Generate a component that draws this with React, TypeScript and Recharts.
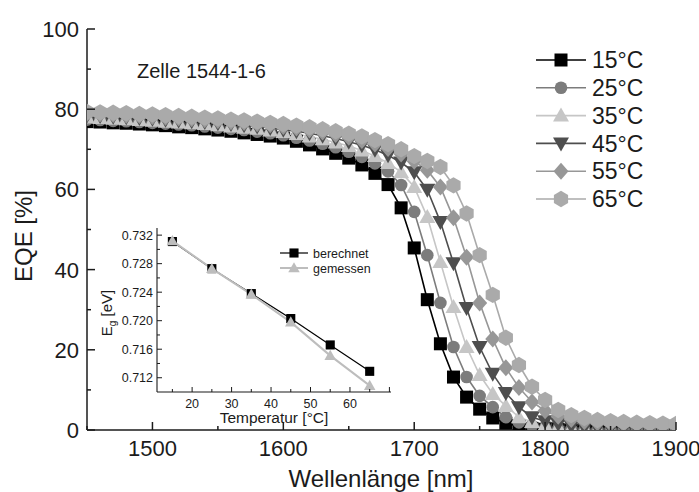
import React from 'react';
import { LineChart, Line, XAxis, YAxis, Legend } from 'recharts';

// main EQE spectra, one point every 10 nm
const wavelength = [1450, 1460, 1470, 1480, 1490, 1500, 1510, 1520, 1530, 1540, 1550, 1560, 1570, 1580, 1590, 1600, 1610, 1620, 1630, 1640, 1650, 1660, 1670, 1680, 1690, 1700, 1710, 1720, 1730, 1740, 1750, 1760, 1770, 1780, 1790, 1800, 1810, 1820, 1830, 1840, 1850, 1860, 1870, 1880, 1890, 1900];

const eqe15 = [76.9, 76.8, 76.6, 76.5, 76.3, 76.1, 75.9, 75.6, 75.4, 75.1, 74.8, 74.5, 74.1, 73.7, 73.3, 72.8, 72.0, 71.1, 70.1, 69.0, 67.8, 66.1, 64.0, 61.2, 55.4, 45.4, 32.5, 21.5, 13.2, 8.2, 5.2, 3.0, 1.7, 0.9, 0.4, 0.2, 0.1, 0, 0, 0, 0, 0, 0, 0, 0, 0];
const eqe25 = [77.4, 77.3, 77.1, 77.0, 76.8, 76.6, 76.4, 76.2, 76.0, 75.7, 75.4, 75.1, 74.8, 74.4, 74.0, 73.5, 72.9, 72.2, 71.4, 70.5, 69.4, 68.1, 66.5, 64.5, 61.1, 54.4, 43.6, 31.7, 20.7, 13.2, 8.5, 5.7, 3.2, 1.9, 1.1, 0.6, 0.3, 0.2, 0.1, 0, 0, 0, 0, 0, 0, 0];
const eqe35 = [77.9, 77.8, 77.6, 77.5, 77.3, 77.1, 76.9, 76.7, 76.5, 76.3, 76.0, 75.7, 75.4, 75.1, 74.7, 74.3, 73.8, 73.2, 72.5, 71.7, 70.8, 69.7, 68.3, 66.6, 64.3, 60.6, 53.1, 41.9, 30.7, 20.7, 13.7, 9.0, 6.0, 3.2, 2.0, 1.2, 0.7, 0.4, 0.3, 0.2, 0.1, 0, 0, 0, 0, 0];
const eqe45 = [78.4, 78.3, 78.1, 78.0, 77.8, 77.6, 77.4, 77.2, 77.0, 76.8, 76.5, 76.3, 76.0, 75.7, 75.3, 74.9, 74.5, 74.0, 73.4, 72.7, 71.9, 71.0, 69.9, 68.5, 66.7, 64.3, 59.9, 51.9, 41.6, 30.4, 20.7, 14.0, 9.2, 5.7, 3.2, 2.2, 1.5, 1.0, 0.7, 0.5, 0.4, 0.3, 0.2, 0.2, 0.1, 0.1];
const eqe55 = [78.9, 78.8, 78.7, 78.5, 78.4, 78.2, 78.0, 77.8, 77.6, 77.4, 77.2, 76.9, 76.7, 76.4, 76.1, 75.7, 75.3, 74.8, 74.3, 73.7, 73.0, 72.2, 71.3, 70.2, 68.8, 67.0, 64.8, 60.6, 52.9, 43.1, 31.7, 22.7, 15.5, 10.6, 7.0, 4.8, 3.4, 2.6, 2.1, 1.8, 1.6, 1.5, 1.4, 1.3, 1.2, 1.2];
const eqe65 = [79.3, 79.2, 79.1, 79.0, 78.8, 78.7, 78.5, 78.3, 78.1, 77.9, 77.7, 77.4, 77.2, 76.9, 76.6, 76.3, 75.9, 75.5, 75.0, 74.5, 73.9, 73.2, 72.3, 71.3, 70.0, 68.3, 67.1, 65.6, 61.0, 54.0, 43.6, 33.7, 23.0, 16.2, 10.8, 7.5, 5.0, 3.7, 3.0, 2.5, 2.2, 2.0, 1.8, 1.7, 1.6, 1.5];

const seriesNames = ['15°C', '25°C', '35°C', '45°C', '55°C', '65°C'];
const seriesKeys = ['t15', 't25', 't35', 't45', 't55', 't65'];
const seriesColors = ['#000000', '#7c7c7c', '#c6c6c6', '#4e4e4e', '#979797', '#aaaaaa'];
type Shape = 'square' | 'circle' | 'up' | 'down' | 'diamond' | 'hexagon';
const seriesShapes: Shape[] = ['square', 'circle', 'up', 'down', 'diamond', 'hexagon'];

const xTicks = [1450, 1500, 1550, 1600, 1650, 1700, 1750, 1800, 1850, 1900];
const yTicks = [0, 10, 20, 30, 40, 50, 60, 70, 80, 90, 100];

// inset: band gap vs temperature
const temperature = [15, 25, 35, 45, 55, 65];
const egCalculated = [0.7311, 0.7273, 0.7238, 0.7203, 0.7166, 0.7129];
const egMeasured = [0.7312, 0.7273, 0.7237, 0.7198, 0.7151, 0.7109];
const insetXTicks = [15, 20, 25, 30, 35, 40, 45, 50, 55, 60, 65, 70];
const insetYTicks = [0.712, 0.714, 0.716, 0.718, 0.72, 0.722, 0.724, 0.726, 0.728, 0.73, 0.732];

const data = wavelength.map((w, i) => ({
  w,
  t15: eqe15[i],
  t25: eqe25[i],
  t35: eqe35[i],
  t45: eqe45[i],
  t55: eqe55[i],
  t65: eqe65[i],
}));

const insetData = temperature.map((t, i) => ({ t, calc: egCalculated[i], meas: egMeasured[i] }));

const FONT = '"Liberation Sans", Arial, Helvetica, sans-serif';
const INK = '#1b1b1b';

function Marker({ shape, cx, cy, k = 1, fill }: { shape: Shape; cx: number; cy: number; k?: number; fill: string }) {
  if (cx == null || cy == null) return null;
  switch (shape) {
    case 'square': {
      const h = 6.5 * k;
      return <rect x={cx - h} y={cy - h} width={2 * h} height={2 * h} fill={fill} />;
    }
    case 'circle':
      return <circle cx={cx} cy={cy} r={6.3 * k} fill={fill} />;
    case 'up':
      return <polygon points={`${cx},${cy - 8 * k} ${cx + 8 * k},${cy + 6 * k} ${cx - 8 * k},${cy + 6 * k}`} fill={fill} />;
    case 'down':
      return <polygon points={`${cx - 8 * k},${cy - 6 * k} ${cx + 8 * k},${cy - 6 * k} ${cx},${cy + 8 * k}`} fill={fill} />;
    case 'diamond':
      return <polygon points={`${cx},${cy - 8.5 * k} ${cx + 7.5 * k},${cy} ${cx},${cy + 8.5 * k} ${cx - 7.5 * k},${cy}`} fill={fill} />;
    default: {
      const r = 8.2 * k;
      const a = r * 0.866;
      return <polygon points={`${cx},${cy - r} ${cx + a},${cy - r / 2} ${cx + a},${cy + r / 2} ${cx},${cy + r} ${cx - a},${cy + r / 2} ${cx - a},${cy - r / 2}`} fill={fill} />;
    }
  }
}

// ticks point inward, labels drawn by hand
const MainBottomTick = (p: any) => {
  const v = p.payload.value;
  const major = v % 100 === 0;
  return (
    <g>
      <line x1={p.x} x2={p.x} y1={p.y} y2={p.y - (major ? 8 : 4)} stroke={INK} strokeWidth={1.5} />
      {major && (
        <text x={p.x} y={p.y + 26} textAnchor="middle" fontSize={22} fontFamily={FONT} fill={INK}>{v}</text>
      )}
    </g>
  );
};
const MainTopTick = (p: any) => {
  const major = p.payload.value % 100 === 0;
  return <line x1={p.x} x2={p.x} y1={p.y} y2={p.y + (major ? 8 : 4)} stroke={INK} strokeWidth={1.5} />;
};
const MainLeftTick = (p: any) => {
  const v = p.payload.value;
  const major = v % 20 === 0;
  return (
    <g>
      <line x1={p.x} x2={p.x + (major ? 8 : 4)} y1={p.y} y2={p.y} stroke={INK} strokeWidth={1.5} />
      {major && (
        <text x={p.x - 8} y={p.y} dy="0.36em" textAnchor="end" fontSize={22} fontFamily={FONT} fill={INK}>{v}</text>
      )}
    </g>
  );
};
const MainRightTick = (p: any) => {
  const major = p.payload.value % 20 === 0;
  return <line x1={p.x} x2={p.x - (major ? 8 : 4)} y1={p.y} y2={p.y} stroke={INK} strokeWidth={1.5} />;
};

const InsetBottomTick = (p: any) => {
  const v = p.payload.value;
  const major = v % 10 === 0;
  return (
    <g>
      <line x1={p.x} x2={p.x} y1={p.y} y2={p.y - (major ? 5 : 3)} stroke={INK} strokeWidth={1} />
      {major && v < 70 && (
        <text x={p.x} y={p.y + 15.5} textAnchor="middle" fontSize={12.5} fontFamily={FONT} fill={INK}>{v}</text>
      )}
    </g>
  );
};
const InsetTopTick = (p: any) => {
  const major = p.payload.value % 10 === 0;
  return <line x1={p.x} x2={p.x} y1={p.y} y2={p.y + (major ? 5 : 3)} stroke={INK} strokeWidth={1} />;
};
const InsetLeftTick = (p: any) => {
  const v = p.payload.value;
  const major = Math.round(v * 1000) % 4 === 0;
  return (
    <g>
      <line x1={p.x} x2={p.x + (major ? 5 : 3)} y1={p.y} y2={p.y} stroke={INK} strokeWidth={1} />
      {major && (
        <text x={p.x - 4} y={p.y} dy="0.36em" textAnchor="end" fontSize={12.5} fontFamily={FONT} fill={INK}>{v.toFixed(3)}</text>
      )}
    </g>
  );
};
const InsetRightTick = (p: any) => {
  const major = Math.round(p.payload.value * 1000) % 4 === 0;
  return <line x1={p.x} x2={p.x - (major ? 5 : 3)} y1={p.y} y2={p.y} stroke={INK} strokeWidth={1} />;
};

const MainLegend = () => (
  <svg width={130} height={175}>
    {seriesNames.map((n, i) => {
      const y = 15 + i * 27.8;
      return (
        <g key={n}>
          <line x1={0} x2={50} y1={y} y2={y} stroke={seriesColors[i]} strokeWidth={1.6} />
          <Marker shape={seriesShapes[i]} cx={25} cy={y} fill={seriesColors[i]} />
          <text x={56} y={y} dy="0.36em" fontSize={23} fontFamily={FONT} fill={INK}>{n}</text>
        </g>
      );
    })}
  </svg>
);

const InsetLegend = () => (
  <svg width={100} height={32}>
    <line x1={0} x2={28} y1={8} y2={8} stroke="#000" strokeWidth={1.2} />
    <Marker shape="square" cx={14} cy={8} k={0.7} fill="#000" />
    <text x={33} y={8} dy="0.36em" fontSize={12.5} fontFamily={FONT} fill={INK}>berechnet</text>
    <line x1={0} x2={28} y1={23} y2={23} stroke="#bdbdbd" strokeWidth={2} />
    <Marker shape="up" cx={14} cy={23} k={0.72} fill="#bdbdbd" />
    <text x={33} y={23} dy="0.36em" fontSize={12.5} fontFamily={FONT} fill={INK}>gemessen</text>
  </svg>
);

const axisLine = { stroke: INK, strokeWidth: 1.5 };
const insetAxisLine = { stroke: INK, strokeWidth: 1.1 };

export default function App() {
  return (
    <div style={{ position: 'fixed', left: 0, top: 0, width: 699, height: 492, background: '#fff', fontFamily: FONT }}>
      <LineChart width={699} height={492} data={data} margin={{ top: 29, right: 23, bottom: 0, left: 0 }}>
        <XAxis dataKey="w" type="number" domain={[1450, 1900]} ticks={xTicks} interval={0} allowDataOverflow
          height={62} tickSize={0} tickMargin={0} tickLine={false} axisLine={axisLine} tick={MainBottomTick} />
        <XAxis xAxisId="top" orientation="top" dataKey="w" type="number" domain={[1450, 1900]} ticks={xTicks} interval={0}
          allowDataOverflow height={0} tickSize={0} tickMargin={0} tickLine={false} axisLine={axisLine} tick={MainTopTick} />
        <YAxis type="number" domain={[0, 100]} ticks={yTicks} interval={0} allowDataOverflow width={87}
          tickSize={0} tickMargin={0} tickLine={false} axisLine={axisLine} tick={MainLeftTick} />
        <YAxis yAxisId="right" orientation="right" type="number" domain={[0, 100]} ticks={yTicks} interval={0}
          width={0} tickSize={0} tickMargin={0} tickLine={false} axisLine={axisLine} tick={MainRightTick} />
        <Legend verticalAlign="middle" align="center" layout="horizontal" content={MainLegend}
          wrapperStyle={{ left: 536, top: 45, width: 130, height: 175 }} />
        {seriesKeys.map((k, i) => (
          <Line key={k} dataKey={k} name={seriesNames[i]} stroke={seriesColors[i]} strokeWidth={1.6}
            isAnimationActive={false} activeDot={false}
            dot={(p: any) => <Marker key={`${k}-${p.index}`} shape={seriesShapes[i]} cx={p.cx} cy={p.cy} fill={seriesColors[i]} />} />
        ))}
      </LineChart>

      <div style={{ position: 'absolute', left: 90, top: 215 }}>
        <LineChart width={310} height={215} data={insetData} margin={{ top: 13, right: 9, bottom: 0, left: 0 }}>
          <XAxis dataKey="t" type="number" domain={[11.1, 70.4]} ticks={insetXTicks} interval={0} allowDataOverflow
            height={38} tickSize={0} tickMargin={0} tickLine={false} axisLine={insetAxisLine} tick={InsetBottomTick} />
          <XAxis xAxisId="top" orientation="top" dataKey="t" type="number" domain={[11.1, 70.4]} ticks={insetXTicks} interval={0}
            allowDataOverflow height={0} tickSize={0} tickMargin={0} tickLine={false} axisLine={insetAxisLine} tick={InsetTopTick} />
          <YAxis type="number" domain={[0.71, 0.733]} ticks={insetYTicks} interval={0} allowDataOverflow width={67}
            tickSize={0} tickMargin={0} tickLine={false} axisLine={insetAxisLine} tick={InsetLeftTick} />
          <YAxis yAxisId="right" orientation="right" type="number" domain={[0.71, 0.733]} ticks={insetYTicks} interval={0}
            width={0} tickSize={0} tickMargin={0} tickLine={false} axisLine={insetAxisLine} tick={InsetRightTick} />
          <Legend verticalAlign="middle" align="center" layout="horizontal" content={InsetLegend}
            wrapperStyle={{ left: 190, top: 30, width: 100, height: 32 }} />
          <Line dataKey="calc" name="berechnet" stroke="#000" strokeWidth={1.2} isAnimationActive={false} activeDot={false}
            dot={(p: any) => <Marker key={`c-${p.index}`} shape="square" cx={p.cx} cy={p.cy} k={0.7} fill="#000" />} />
          <Line dataKey="meas" name="gemessen" stroke="#bdbdbd" strokeWidth={2} isAnimationActive={false} activeDot={false}
            dot={(p: any) => <Marker key={`m-${p.index}`} shape="up" cx={p.cx} cy={p.cy} k={0.72} fill="#bdbdbd" />} />
        </LineChart>
      </div>

      <svg width={699} height={492} style={{ position: 'absolute', left: 0, top: 0, pointerEvents: 'none' }}>
        <text x={137} y={78} fontSize={20} fontFamily={FONT} fill={INK}>Zelle 1544-1-6</text>
        <text x={32} y={236} transform="rotate(-90 32 236)" textAnchor="middle" fontSize={24} fontFamily={FONT} fill={INK}>EQE [%]</text>
        <text x={381} y={487} textAnchor="middle" fontSize={24} fontFamily={FONT} fill={INK}>Wellenlänge [nm]</text>
        <text x={274} y={423} textAnchor="middle" fontSize={15.5} fontFamily={FONT} fill={INK}>Temperatur [°C]</text>
        <text x={112} y={313} transform="rotate(-90 112 313)" textAnchor="middle" fontSize={15} fontFamily={FONT} fill={INK}>
          E<tspan fontSize={10} dy={4}>g</tspan><tspan dy={-4}> [eV]</tspan>
        </text>
      </svg>
    </div>
  );
}
